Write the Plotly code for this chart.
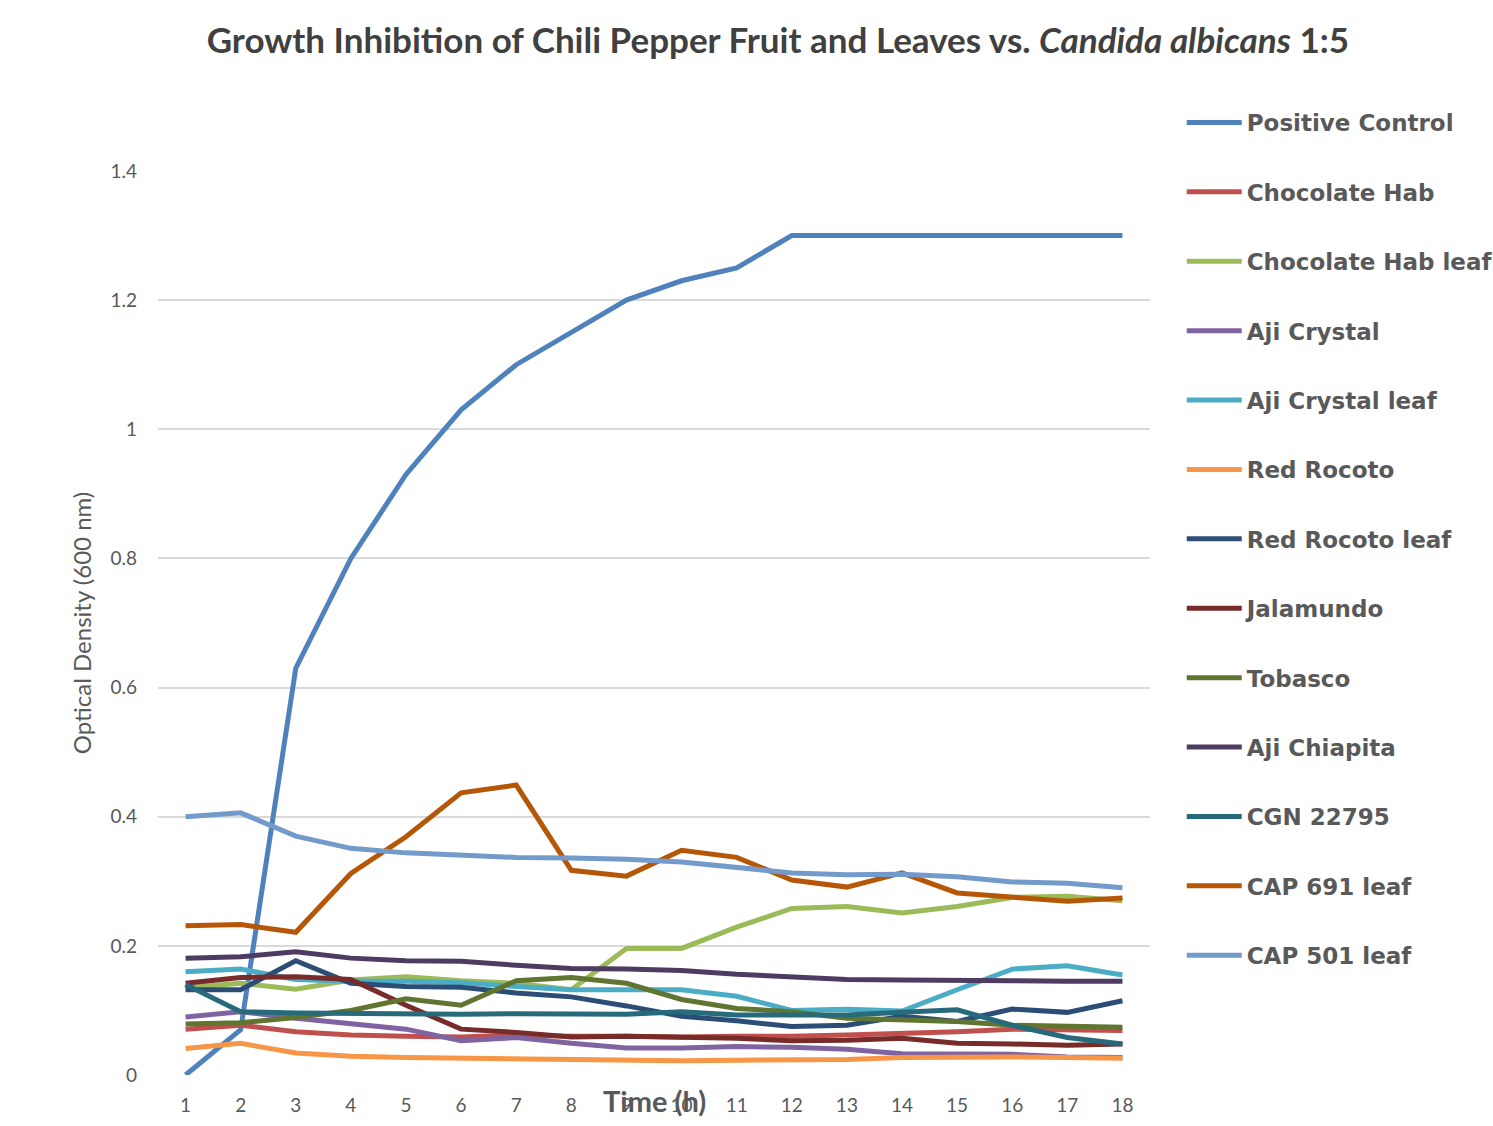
import plotly.graph_objects as go

hours = list(range(1, 19))

positive_control = [0.0, 0.07, 0.63, 0.80, 0.93, 1.03, 1.10, 1.15, 1.20, 1.23, 1.25, 1.30, 1.30, 1.30, 1.30, 1.30, 1.30, 1.30]
chocolate_hab = [0.071, 0.077, 0.067, 0.062, 0.060, 0.059, 0.062, 0.060, 0.060, 0.059, 0.060, 0.060, 0.062, 0.064, 0.067, 0.071, 0.070, 0.069]
chocolate_hab_leaf = [0.135, 0.142, 0.133, 0.147, 0.152, 0.146, 0.142, 0.132, 0.196, 0.196, 0.229, 0.258, 0.261, 0.251, 0.261, 0.275, 0.277, 0.270]
aji_crystal = [0.090, 0.098, 0.088, 0.080, 0.071, 0.053, 0.058, 0.049, 0.042, 0.042, 0.044, 0.043, 0.040, 0.033, 0.033, 0.032, 0.028, 0.027]
aji_crystal_leaf = [0.160, 0.164, 0.148, 0.145, 0.145, 0.143, 0.137, 0.132, 0.132, 0.132, 0.122, 0.100, 0.102, 0.099, 0.132, 0.164, 0.169, 0.155]
red_rocoto = [0.041, 0.049, 0.034, 0.029, 0.027, 0.026, 0.024, 0.023, 0.022, 0.022, 0.023, 0.023, 0.024, 0.027, 0.028, 0.028, 0.027, 0.026]
red_rocoto_leaf = [0.132, 0.132, 0.177, 0.142, 0.137, 0.136, 0.127, 0.121, 0.107, 0.091, 0.084, 0.075, 0.077, 0.091, 0.083, 0.102, 0.097, 0.115]
jalamundo = [0.142, 0.151, 0.152, 0.148, 0.108, 0.071, 0.066, 0.059, 0.060, 0.059, 0.057, 0.053, 0.054, 0.057, 0.049, 0.048, 0.046, 0.048]
tobasco = [0.079, 0.081, 0.089, 0.100, 0.118, 0.108, 0.146, 0.151, 0.142, 0.117, 0.103, 0.098, 0.088, 0.086, 0.083, 0.077, 0.075, 0.074]
aji_chiapita = [0.181, 0.183, 0.191, 0.181, 0.177, 0.176, 0.170, 0.165, 0.164, 0.162, 0.156, 0.152, 0.148, 0.147, 0.147, 0.146, 0.145, 0.145]
cgn_22795 = [0.140, 0.098, 0.096, 0.095, 0.094, 0.094, 0.095, 0.094, 0.094, 0.098, 0.093, 0.093, 0.093, 0.097, 0.101, 0.077, 0.058, 0.048]
cap_691_leaf = [0.231, 0.233, 0.221, 0.312, 0.369, 0.437, 0.449, 0.317, 0.308, 0.348, 0.337, 0.302, 0.291, 0.313, 0.282, 0.276, 0.269, 0.274]
cap_501_leaf = [0.400, 0.406, 0.370, 0.351, 0.344, 0.340, 0.337, 0.336, 0.334, 0.330, 0.322, 0.313, 0.310, 0.311, 0.307, 0.299, 0.297, 0.290]

series_names = ["Positive Control", "Chocolate Hab", "Chocolate Hab leaf", "Aji Crystal",
                "Aji Crystal leaf", "Red Rocoto", "Red Rocoto leaf", "Jalamundo", "Tobasco",
                "Aji Chiapita", "CGN 22795", "CAP 691 leaf", "CAP 501 leaf"]
series_values = [positive_control, chocolate_hab, chocolate_hab_leaf, aji_crystal,
                 aji_crystal_leaf, red_rocoto, red_rocoto_leaf, jalamundo, tobasco,
                 aji_chiapita, cgn_22795, cap_691_leaf, cap_501_leaf]
series_colors = ["#4F81BD", "#C0504D", "#9BBB59", "#8064A2", "#4BACC6", "#F79646",
                 "#2C4D75", "#772C2A", "#5F7530", "#4D3B62", "#276A7C", "#B65708", "#729ACA"]

y_ticks = [0, 0.2, 0.4, 0.6, 0.8, 1.0, 1.2, 1.4]
y_tick_labels = ["0", "0.2", "0.4", "0.6", "0.8", "1", "1.2", "1.4"]

FONT = "Lato"
LEGEND_FONT = "DejaVu Sans"
GREY = "#595959"

fig = go.Figure()
for i, (name, vals, col) in enumerate(zip(series_names, series_values, series_colors)):
    fig.add_trace(go.Scatter(
        x=hours, y=vals, name=name, mode="lines",
        line=dict(color=col, width=5),
        legendgroup=f"g{i}",
    ))

fig.update_layout(
    width=1493, height=1126,
    margin=dict(l=158, r=343, t=171, b=51, autoexpand=False),
    paper_bgcolor="white", plot_bgcolor="white",
    font=dict(family=FONT, color=GREY),
    title=dict(
        text="<b>Growth Inhibition of Chili Pepper Fruit and Leaves vs. <i>Candida albicans</i> 1:5</b>",
        x=0.521, xanchor="center", y=0.964, yanchor="middle",
        font=dict(family=FONT, size=35, color="#404040"),
    ),
    xaxis=dict(
        range=[0.5, 18.5], tickmode="array", tickvals=hours,
        ticktext=[str(h) for h in hours], showgrid=False, zeroline=False,
        showline=False, ticks="", tickfont=dict(size=19, color=GREY, family=FONT),
        ticklabelstandoff=17, automargin=False,
    ),
    yaxis=dict(
        range=[0, 1.4], tickmode="array", tickvals=y_ticks, ticktext=y_tick_labels,
        showgrid=True, gridcolor="#D9D9D9", gridwidth=1.5, zeroline=False,
        showline=False, ticks="", tickfont=dict(size=19, color=GREY, family=FONT),
        ticklabelstandoff=20, automargin=False,
        title=dict(text="Optical Density (600 nm)", font=dict(size=24, color=GREY, family=FONT), standoff=12),
    ),
    legend=dict(
        x=1.032, xanchor="left", y=1.0 + (171 - 101) / 904, yanchor="top",
        font=dict(size=23, color=GREY, family=LEGEND_FONT, weight="bold"), tracegroupgap=36.5,
        bgcolor="rgba(0,0,0,0)", itemwidth=55, maxheight=1100,
    ),
    showlegend=True,
)

fig.add_annotation(
    text="<b>Time (h)</b>", xref="paper", yref="paper", x=0.5, y=-0.028,
    xanchor="center", yanchor="middle", showarrow=False,
    font=dict(size=29, color=GREY, family=FONT),
)

fig.write_html("out.html")
